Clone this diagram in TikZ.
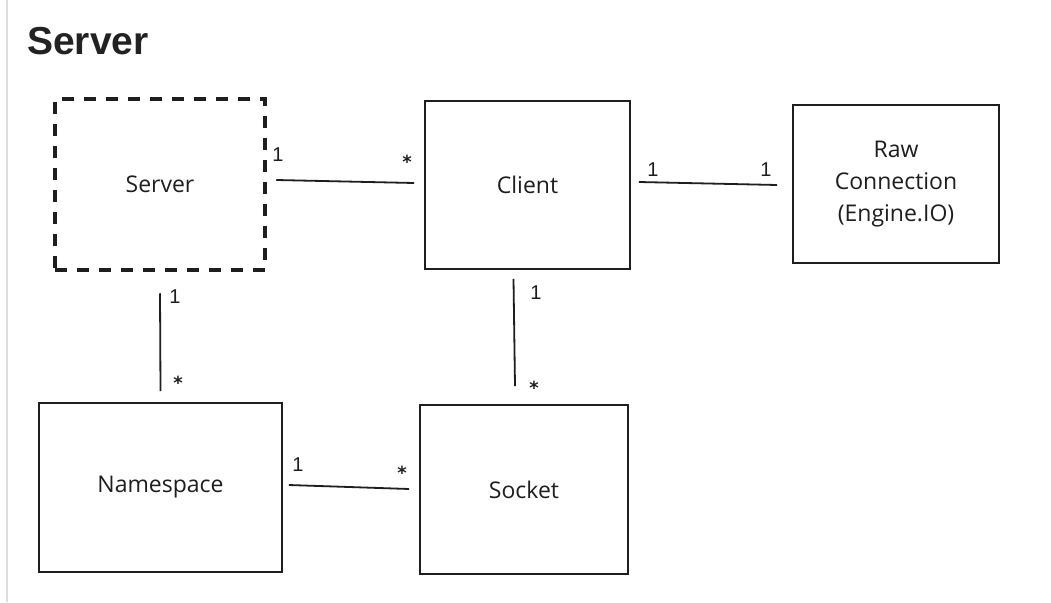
\documentclass[tikz,border=0pt]{standalone}
\usepackage{fontspec}
\setmainfont{Open Sans}
\newfontfamily\headfont{Liberation Sans}
\newfontfamily\numfont{Liberation Sans}
\newfontfamily\starfont{DejaVu Sans}
\definecolor{ink}{HTML}{1E1E1E}
\definecolor{rule}{HTML}{DDDDDD}
\definecolor{heading}{HTML}{222222}
\begin{document}
\begin{tikzpicture}[x=1pt,y=-1pt,
  box/.style={draw=ink, line width=1.8pt, rectangle, inner sep=0pt,
    align=center, font=\fontsize{23}{32}\selectfont, text=ink},
  dashbox/.style={box, line width=4.5pt, dash pattern=on 12pt off 10pt},
  conn/.style={draw=ink, line width=1.8pt},
  mult/.style={inner sep=0pt, text=ink, font=\numfont\fontsize{20}{20}\selectfont},
  star/.style={inner sep=0pt, text=ink, font=\starfont\bfseries\fontsize{18}{18}\selectfont}]
  % page area and left rule
  \fill[white] (0,0) rectangle (1051,602);
  \useasboundingbox (0,0) rectangle (1051,602);
  \draw[rule, line width=2pt] (7,0) -- (7,602);
  % section heading
  \node[anchor=base west, inner sep=0pt, text=heading,
    font=\headfont\bfseries\fontsize{39}{39}\selectfont] (title) at (27,55) {Server};

  % classes
  \node[dashbox, minimum width=210pt, minimum height=171pt] (server) at (160,184.5) {Server};
  \node[box, minimum width=205pt, minimum height=168pt] (client) at (527.5,185) {Client};
  \node[box, minimum width=206pt, minimum height=158pt] (raw) at (896,184) {Raw\\Connection\\(Engine.IO)};
  \node[box, minimum width=243pt, minimum height=169pt] (namespace) at (160.5,487.5) {Namespace};
  \node[box, minimum width=208pt, minimum height=169pt] (socket) at (524,489.5) {Socket};

  % associations
  \draw[conn] ([xshift=9pt,yshift=4.5pt]server.east) -- ([xshift=-10pt,yshift=2pt]client.west);
  \draw[conn] ([xshift=8pt,yshift=3pt]client.east) -- ([xshift=-15pt,yshift=-1pt]raw.west);
  \draw[conn] ([yshift=-21pt]server.south) -- ([yshift=11pt]namespace.north);
  \draw[conn] ([xshift=-14pt,yshift=-9pt]client.south) -- ([xshift=-9pt,yshift=18pt]socket.north);
  \draw[conn] ([xshift=6pt,yshift=2.5pt]namespace.east) -- ([xshift=-10pt,yshift=0.5pt]socket.west);

  % multiplicities
  \node[mult] (m1) at (278,155) {1};
  \node[star] (m2) at (407,162) {*};
  \node[mult] (m3) at (653,170) {1};
  \node[mult] (m4) at (766,170) {1};
  \node[mult] (m5) at (175,297) {1};
  \node[star] (m6) at (178,383) {*};
  \node[mult] (m7) at (536,293) {1};
  \node[star] (m8) at (534,388) {*};
  \node[mult] (m9) at (298,465) {1};
  \node[star] (m10) at (402,473) {*};
\end{tikzpicture}
\end{document}
